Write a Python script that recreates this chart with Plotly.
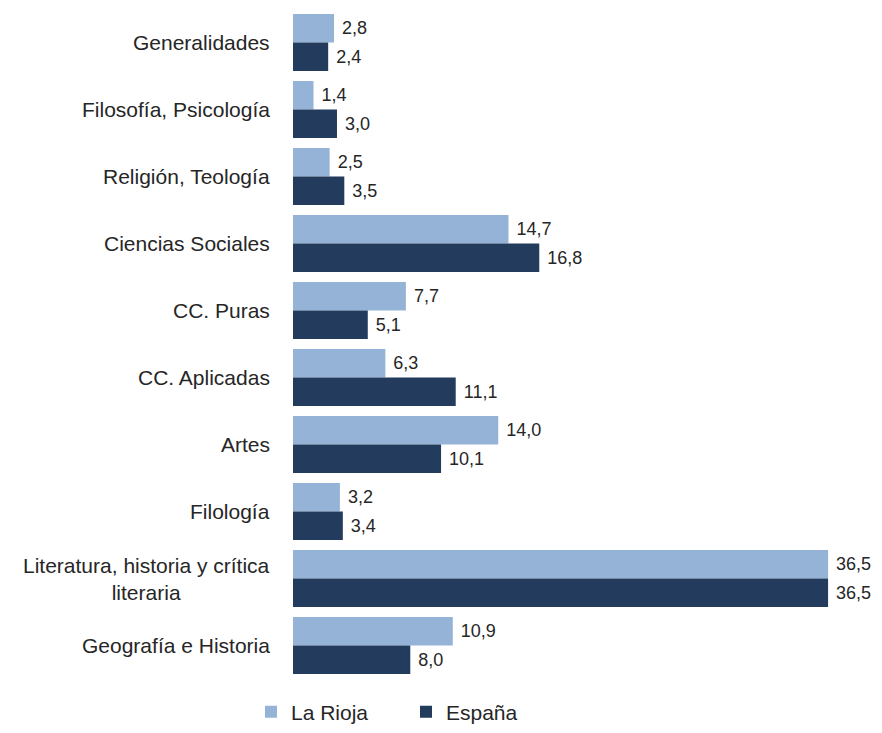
import plotly.graph_objects as go

categories = ["Generalidades", "Filosofía, Psicología", "Religión, Teología",
              "Ciencias Sociales", "CC. Puras", "CC. Aplicadas", "Artes",
              "Filología", "Literatura, historia y crítica<br>literaria",
              "Geografía e Historia"]
la_rioja = [2.8, 1.4, 2.5, 14.7, 7.7, 6.3, 14.0, 3.2, 36.5, 10.9]
espana = [2.4, 3.0, 3.5, 16.8, 5.1, 11.1, 10.1, 3.4, 36.5, 8.0]
series_names = ["La Rioja", "España"]

LIGHT = "#95b3d7"
DARK = "#233b5d"
TXT = "#262626"
FONT = "Liberation Sans, Arial, sans-serif"

W, H = 866, 717

fig = go.Figure()
for name, vals, col in [(series_names[0], la_rioja, LIGHT), (series_names[1], espana, DARK)]:
    fig.add_trace(go.Bar(
        y=categories, x=vals, name=name, orientation="h",
        marker=dict(color=col, line=dict(width=0)),
        texttemplate="\u00a0%{x:.1f}", textposition="outside",
        textfont=dict(family=FONT, size=18, color=TXT),
        cliponaxis=False, constraintext="none",
    ))

for c in categories:
    fig.add_annotation(x=0, xref="paper", y=c, yref="y", text=c,
                       xanchor="right", xshift=-21, align="center",
                       showarrow=False, font=dict(family=FONT, size=21, color=TXT))

fig.update_layout(
    width=W, height=H,
    margin=dict(l=285, r=10, t=1, b=46),
    paper_bgcolor="white", plot_bgcolor="white",
    barmode="group", bargap=0.15, bargroupgap=0,
    separators=",.",
    font=dict(family=FONT, size=21, color=TXT),
    xaxis=dict(range=[0, 38.95], visible=False, fixedrange=True),
    yaxis=dict(autorange="reversed", showticklabels=False, showgrid=False,
               zeroline=False, showline=False, ticks=""),
    showlegend=True,
    legend=dict(orientation="h", xref="container", yref="container",
                x=243 / W, y=13 / H, xanchor="left", yanchor="middle",
                font=dict(family=FONT, size=21, color=TXT),
                entrywidth=110, entrywidthmode="pixels",
                itemclick=False, bgcolor="rgba(0,0,0,0)"),
)

fig.write_html("out.html")
